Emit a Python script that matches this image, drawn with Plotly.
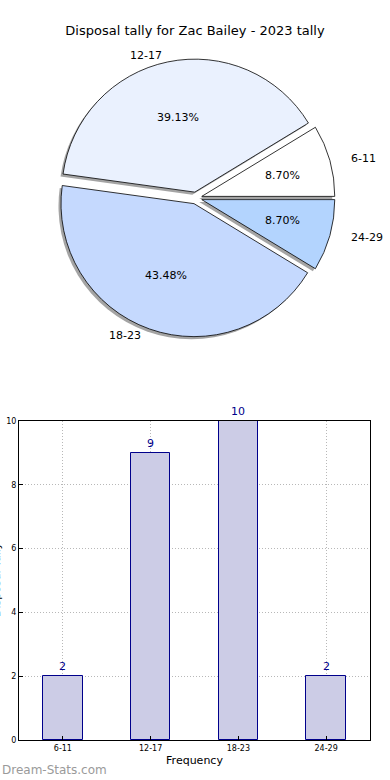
import math
import plotly.graph_objects as go

# ---- data ----
categories = ["6-11", "12-17", "18-23", "24-29"]
tally = [2, 9, 10, 2]
pie_colors = ["#FFFFFF", "#EAF1FE", "#C5D9FE", "#B3D4FE"]
explode = [0.05, 0.05, 0.05, 0.05]
y_ticks = [0, 2, 4, 6, 8, 10]

title = "Disposal tally for Zac Bailey - 2023 tally"
FONT = "DejaVu Sans"

W, H = 390, 780
ML, MR, MT, MB = 19, 20, 20, 40
PW, PH = W - ML - MR, H - MT - MB


def fx(px):
    return (px - ML) / PW


def fy(py):
    return (H - MB - py) / PH


# pie geometry (pixels)
cx, cy = 196, 198
r_circle = 133
pull = 0.045
rbox = r_circle * (1 + pull)
rx, ry = 138, 127

dom_x = [fx(cx - rbox), fx(cx + rbox)]
dom_y = [fy(cy + rbox), fy(cy - rbox)]
sx, sy = 2.5 / PW, 2.5 / PH

total = sum(tally)
rotation = 90 - 360 * tally[0] / total

fig = go.Figure()

# shadow
fig.add_trace(go.Pie(
    labels=categories, values=tally, sort=False, direction="counterclockwise",
    rotation=rotation, pull=[pull] * len(tally), textinfo="none", hoverinfo="skip",
    marker=dict(colors=["rgba(90,90,90,0.55)"] * len(tally), line=dict(width=0)),
    domain=dict(x=[dom_x[0] - sx, dom_x[1] - sx], y=[dom_y[0] - sy, dom_y[1] - sy]),
    showlegend=False,
))
# main pie
fig.add_trace(go.Pie(
    labels=categories, values=tally, sort=False, direction="counterclockwise",
    rotation=rotation, pull=[pull] * len(tally), textinfo="none",
    hoverinfo="label+percent",
    marker=dict(colors=pie_colors, line=dict(color="black", width=0.8)),
    domain=dict(x=dom_x, y=dom_y), showlegend=False,
))

annotations = []
cum = 0
for cat, v, ex in zip(categories, tally, explode):
    frac = v / total
    mid = 2 * math.pi * (cum + frac / 2)
    cum += frac
    c, s = math.cos(mid), math.sin(mid)
    ox, oy = cx + ex * rx * c, cy - ex * ry * s
    lx, ly = ox + 1.1 * rx * c, oy - 1.1 * ry * s
    px_, py_ = ox + 0.6 * rx * c, oy - 0.6 * ry * s
    annotations.append(dict(
        x=fx(lx), y=fy(ly), xref="paper", yref="paper", text=cat, showarrow=False,
        xanchor="left" if c > 0 else "right", yanchor="middle",
        font=dict(family=FONT, size=11, color="black")))
    annotations.append(dict(
        x=fx(px_), y=fy(py_), xref="paper", yref="paper",
        text=f"{frac * 100:.2f}%", showarrow=False,
        xanchor="center", yanchor="middle",
        font=dict(family=FONT, size=11, color="black")))

# bar chart
fig.add_trace(go.Bar(
    x=categories, y=tally, width=0.45,
    marker=dict(color="#CCCCE6", line=dict(color="#00008B", width=1)),
    xaxis="x", yaxis="y", showlegend=False, hoverinfo="x+y",
))
for cat, v in zip(categories, tally):
    annotations.append(dict(
        x=cat, y=v, xref="x", yref="y", text=str(v), showarrow=False,
        yanchor="bottom", yshift=1,
        font=dict(family=FONT, size=11, color="#00008B")))

annotations.append(dict(
    x=fx(-4), y=fy(580), xref="paper", yref="paper",
    xanchor="center", yanchor="middle",
    text="Disposal Tally", showarrow=False, textangle=-90,
    font=dict(family=FONT, size=11, color="black")))

annotations.append(dict(
    x=fx(0), y=fy(770), xref="paper", yref="paper", text="Dream-Stats.com",
    showarrow=False, xanchor="left", yanchor="middle",
    font=dict(family=FONT, size=12, color="#9A9A9A")))

GRID = "#B8B8B8"
fig.update_layout(
    width=W, height=H,
    margin=dict(l=ML, r=MR, t=MT, b=MB, autoexpand=False),
    paper_bgcolor="white", plot_bgcolor="white",
    font=dict(family=FONT, size=8, color="black"),
    title=dict(text=title, x=0.5, xanchor="center", y=1 - 30 / H, yanchor="middle",
               font=dict(family=FONT, size=13, color="black")),
    xaxis=dict(
        domain=[0, 1], range=[-0.5, 3.5], type="category",
        showline=True, linecolor="black", linewidth=1, mirror=True,
        showgrid=True, gridcolor=GRID, griddash="1px,2px", gridwidth=1,
        ticks="inside", ticklen=4, tickcolor="black",
        tickfont=dict(family=FONT, size=8),
        title=dict(text="Frequency", font=dict(family=FONT, size=11), standoff=4),
        zeroline=False, fixedrange=True, automargin=False,
    ),
    yaxis=dict(
        domain=[0, 319 / PH], range=[0, 10], tickvals=y_ticks,
        showline=True, linecolor="black", linewidth=1, mirror=True,
        showgrid=True, gridcolor=GRID, griddash="1px,2px", gridwidth=1,
        ticks="inside", ticklen=4, tickcolor="black",
        tickfont=dict(family=FONT, size=8),
        zeroline=False, fixedrange=True, automargin=False,
    ),
    annotations=annotations,
    bargap=0,
)

fig.write_html(
    "out.html",
    config={"displayModeBar": False},
    post_script="document.body.style.margin='0px';document.body.style.overflow='hidden';",
)
